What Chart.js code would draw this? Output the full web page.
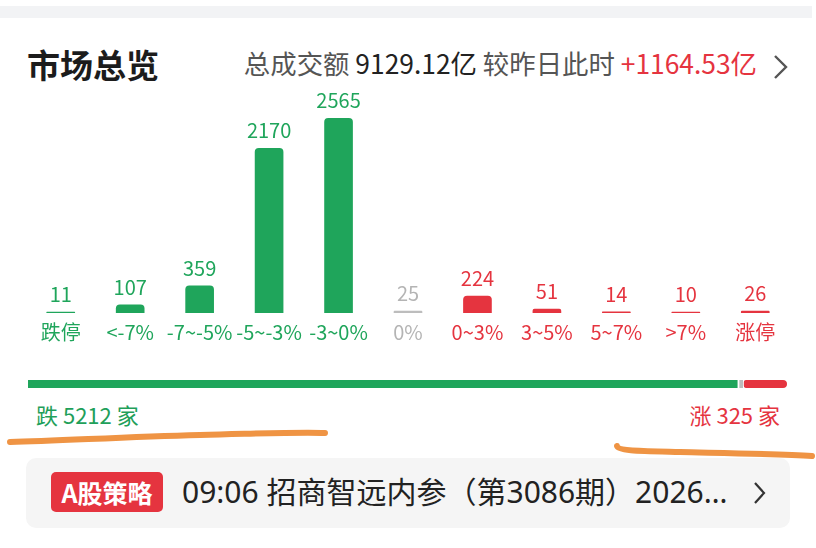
<!DOCTYPE html>
<html>
<head>
<meta charset="utf-8">
<script src="https://cdn.jsdelivr.net/npm/chart.js@4.4.0/dist/chart.umd.min.js"></script>
<style>
  body { margin: 0; width: 816px; height: 548px; background: #fff; position: relative; overflow: hidden;
         font-family: "Noto Sans CJK SC", "Noto Sans", sans-serif; }
  .abs { position: absolute; white-space: nowrap; }
  #strip { left: 0; top: 6px; width: 812px; height: 12px; background: #f2f3f5; }
  #title { left: 27px; top: 44px; font-size: 33px; line-height: 40px; font-weight: bold; color: #1c1c1c; }
  #summary { right: 59px; top: 46px; font-size: 26.4px; line-height: 34px; color: #555; }
  #summary .num { color: #222; }
  #summary .up { color: #e5343f; }
  #bars { left: 26px; top: 80px; width: 764px; height: 271px; }
  #ratio { left: 28px; top: 380px; width: 759px; height: 8px; }
  #downTxt { left: 36px; top: 399px; font-size: 22px; line-height: 30px; color: #1fa05a; }
  #upTxt { right: 36px; top: 399px; font-size: 22px; line-height: 30px; color: #e5343f; }
  #news { left: 26px; top: 458px; width: 764px; height: 70px; background: #f5f5f5; border-radius: 10px; }
  #badge { left: 51px; top: 472px; width: 112px; height: 40px; background: #e5343f; border-radius: 5px;
           color: #fff; font-weight: bold; font-size: 25px; line-height: 40px; text-align: center; }
  #headline { left: 182px; top: 472px; font-size: 30px; line-height: 40px; color: #222;
              font-family: "Noto Sans", "Noto Sans CJK SC", sans-serif; }
  #marks { left: 0; top: 0; }
</style>
</head>
<body>
<div id="strip" class="abs"></div>
<div id="title" class="abs">市场总览</div>
<div id="summary" class="abs"></div>
<svg class="abs" style="left:766px;top:52px" width="26" height="30"><polyline points="9,4 20,15 9,26" fill="none" stroke="#555" stroke-width="2.4"/></svg>
<div class="abs" id="bars"><canvas id="barChart"></canvas></div>
<div class="abs" id="ratio"><canvas id="ratioChart"></canvas></div>
<div id="downTxt" class="abs"></div>
<div id="upTxt" class="abs"></div>
<div id="news" class="abs"></div>
<div id="badge" class="abs">A股策略</div>
<div id="headline" class="abs"></div>
<svg class="abs" style="left:752px;top:480px" width="16" height="26"><polyline points="3,3 12,13 3,23" fill="none" stroke="#333" stroke-width="2.2"/></svg>
<svg id="marks" class="abs" width="816" height="548">
  <path d="M10,442 C60,441 120,437 200,435 S300,432 325,433" fill="none" stroke="#ef9444" stroke-width="6" stroke-linecap="round"/>
  <path d="M617,446 C618,451 640,451 680,452 S780,454 812,456" fill="none" stroke="#ef9444" stroke-width="6" stroke-linecap="round"/>
</svg>
<script>
const categories = ["跌停", "<-7%", "-7~-5%", "-5~-3%", "-3~0%", "0%", "0~3%", "3~5%", "5~7%", ">7%", "涨停"];
const counts = [11, 107, 359, 2170, 2565, 25, 224, 51, 14, 10, 26];
const turnover = "9129.12亿";
const turnoverChange = "+1164.53亿";
const headline = "09:06 招商智远内参（第3086期）2026…";

const GREEN = "#1fa55b", RED = "#e5343f", GREY = "#bdbdbd";
const flatIdx = categories.indexOf("0%");
const colorAt = (i) => (i < flatIdx ? GREEN : i > flatIdx ? RED : GREY);
const textColorAt = (i) => (i === flatIdx ? "#b4b4b4" : colorAt(i));

const down = counts.slice(0, flatIdx).reduce((a, b) => a + b, 0);
const flat = counts[flatIdx];
const up = counts.slice(flatIdx + 1).reduce((a, b) => a + b, 0);

document.getElementById("summary").innerHTML =
  '总成交额 <span class="num">' + turnover + '</span> 较昨日此时 <span class="up">' + turnoverChange + "</span>";
document.getElementById("downTxt").textContent = "跌 " + down + " 家";
document.getElementById("upTxt").textContent = "涨 " + up + " 家";
document.getElementById("headline").textContent = headline;

Chart.defaults.font.family = '"Noto Sans CJK SC", "Noto Sans", sans-serif';
Chart.defaults.animation = false;

// numbers over the bars
const valueLabels = {
  id: "valueLabels",
  afterDatasetsDraw(chart) {
    const ctx = chart.ctx;
    const meta = chart.getDatasetMeta(0);
    ctx.save();
    ctx.font = '20px "Noto Sans CJK SC", sans-serif';
    ctx.textAlign = "center";
    ctx.textBaseline = "alphabetic";
    meta.data.forEach((bar, i) => {
      ctx.fillStyle = textColorAt(i);
      ctx.fillText(String(counts[i]), bar.x, bar.y - 10);
    });
    ctx.restore();
  },
};

new Chart(document.getElementById("barChart"), {
  type: "bar",
  data: {
    labels: categories,
    datasets: [
      {
        data: counts,
        backgroundColor: counts.map((v, i) => colorAt(i)),
        barThickness: 28,
        minBarLength: 1,
        borderRadius: { topLeft: 4, topRight: 4 },
        borderSkipped: "start",
      },
    ],
  },
  options: {
    responsive: true,
    maintainAspectRatio: false,
    layout: { padding: { top: 0, bottom: 0, left: 0, right: 0 } },
    plugins: { legend: { display: false }, tooltip: { enabled: false } },
    scales: {
      x: {
        grid: { display: false, drawTicks: false },
        border: { display: false },
        ticks: {
          padding: 7,
          font: { size: 20 },
          color: (c) => textColorAt(c.index),
          maxRotation: 0,
          autoSkip: false,
        },
      },
      y: { display: false, min: 0, max: 3070 },
    },
  },
  plugins: [valueLabels],
});

new Chart(document.getElementById("ratioChart"), {
  type: "bar",
  data: {
    labels: [""],
    datasets: [
      { data: [down], backgroundColor: GREEN, borderColor: "#fff", borderWidth: { right: 2 } },
      { data: [flat], backgroundColor: GREY, borderWidth: 0 },
      { data: [up], backgroundColor: RED, borderColor: "#fff", borderWidth: { left: 1.5 } },
    ],
  },
  options: {
    indexAxis: "y",
    responsive: true,
    maintainAspectRatio: false,
    layout: { padding: 0 },
    datasets: { bar: { barPercentage: 1, categoryPercentage: 1, borderRadius: 4, borderSkipped: false } },
    plugins: { legend: { display: false }, tooltip: { enabled: false } },
    scales: {
      x: { display: false, stacked: true, min: 0, max: down + flat + up },
      y: { display: false, stacked: true },
    },
  },
});
</script>
</body>
</html>
